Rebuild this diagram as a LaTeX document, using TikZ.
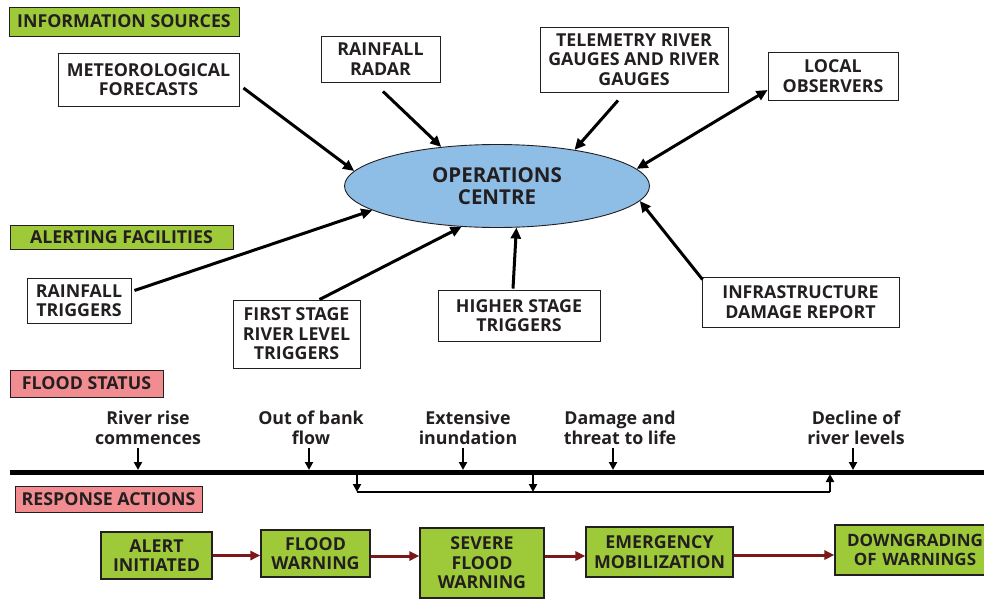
\documentclass[tikz,border=0pt]{standalone}
\usepackage{fontspec}
\setmainfont{Open Sans}
\usetikzlibrary{shapes.geometric,arrows.meta,calc}
\definecolor{boxgreen}{RGB}{158,202,58}
\definecolor{boxpink}{RGB}{241,140,144}
\definecolor{ocblue}{RGB}{142,189,230}
\definecolor{txt}{RGB}{35,31,32}
\definecolor{darkred}{RGB}{125,24,24}
\begin{document}
\begin{tikzpicture}[x=1pt,y=-1pt,
  every node/.style={text=txt,font=\bfseries\fontsize{17.8}{19.5}\selectfont,align=center,inner sep=0pt},
  srcbox/.style={draw=txt,line width=0.9pt,fill=white},
  headg/.style={draw=txt,line width=0.9pt,fill=boxgreen},
  headp/.style={draw=txt,line width=0.9pt,fill=boxpink},
  actbox/.style={draw=txt,line width=1.1pt,fill=boxgreen},
  lbl/.style={font=\bfseries\fontsize{17.8}{19.5}\selectfont},
  arr/.style={line width=3pt,-{Triangle[length=11pt,width=10pt]}},
  tarr/.style={line width=2.2pt,-{Triangle[length=8pt,width=8pt]}},
  rarr/.style={draw=darkred,line width=3pt,-{Triangle[length=10pt,width=9pt]}}]
\useasboundingbox (0,0) rectangle (984,599);

% headings
\node[headg,minimum width=230,minimum height=29] (info) at (124,21.5) {INFORMATION SOURCES};
\node[headg,minimum width=223,minimum height=24] (alerting) at (121.5,237) {ALERTING FACILITIES};
\node[headp,minimum width=153,minimum height=27] (fstatus) at (86.5,383.5) {FLOOD STATUS};
\node[headp,minimum width=187,minimum height=26] (response) at (108.5,499) {RESPONSE ACTIONS};

% sources
\node[srcbox,minimum width=181,minimum height=53] (meteo) at (148.5,79.5) {METEOROLOGICAL\\FORECASTS};
\node[srcbox,minimum width=119,minimum height=46] (radar) at (380.5,59) {RAINFALL\\RADAR};
\node[srcbox,minimum width=188,minimum height=65] (telem) at (634,59.5) {TELEMETRY RIVER\\GAUGES AND RIVER\\GAUGES};
\node[srcbox,minimum width=130,minimum height=48] (local) at (833,76) {LOCAL\\OBSERVERS};

% operations centre
\node[ellipse,draw=txt,line width=0.9pt,fill=ocblue,minimum width=305,minimum height=83,
      font=\bfseries\fontsize{20.5}{22}\selectfont] (oc) at (497,186) {OPERATIONS\\CENTRE};

% alerting facilities
\node[srcbox,minimum width=104,minimum height=45] (rtrig) at (79,300.5) {RAINFALL\\TRIGGERS};
\node[srcbox,minimum width=127,minimum height=68] (first) at (296.5,334) {FIRST STAGE\\RIVER LEVEL\\TRIGGERS};
\node[srcbox,minimum width=162,minimum height=51] (higher) at (519,315.5) {HIGHER STAGE\\TRIGGERS};
\node[srcbox,minimum width=197,minimum height=50] (infra) at (800.5,302) {INFRASTRUCTURE\\DAMAGE REPORT};

% connectors to the centre
\draw[arr] ($(meteo.east)+(4,8.5)$) -- (oc.174.6);
\draw[arr] ($(radar.south)+(2.5,9)$) -- (oc.145);
\draw[arr] ($(telem.south)+(-16,8)$) -- (oc.25.2);
\draw[line width=3pt,{Triangle[length=11pt,width=10pt]}-{Triangle[length=11pt,width=10pt]}] (oc.7.6) -- ($(local.west)+(0,14)$);
\draw[arr] ($(rtrig.east)+(3,-10)$) -- (oc.191.3);
\draw[arr] ($(first.north)+(23,0)$) -- (oc.229);
\draw[arr] ($(higher.north)+(-6,-1)$) -- (oc.295);
\draw[arr] ($(infra.north west)+(1,3)$) -- (oc.354.3);

% timeline
\coordinate (tl) at (10,472);
\coordinate (tr) at (984,472);
\draw[line width=5pt] (tl) -- (tr);

\node[lbl] (l1) at (148,428) {River rise\\commences};
\node[lbl] (l2) at (311,428) {Out of bank\\flow};
\node[lbl] (l3) at (468,428) {Extensive\\inundation};
\node[lbl] (l4) at (620,428) {Damage and\\threat to life};
\node[lbl] (l5) at (856,428) {Decline of\\river levels};

\coordinate (a1) at (138,470);
\coordinate (a2) at (309,470);
\coordinate (a3) at (463,470);
\coordinate (a4) at (613,470);
\coordinate (a5) at (853,470);
\foreach \a in {a1,a2,a3,a4,a5}
  \draw[tarr] ($(\a)+(0,-22)$) -- (\a);

% bracket
\coordinate (b1) at (357,474);
\coordinate (b2) at (357,492);
\coordinate (b3) at (830,492);
\coordinate (b4) at (830,474);
\coordinate (b5) at (533,474);
\coordinate (b6) at (533,492);
\draw[line width=2pt] (b2) -- (b3);
\draw[tarr] (b1) -- (b2);
\draw[tarr] (b5) -- (b6);
\draw[tarr] (b3) -- (b4);

% response actions
\node[actbox,minimum width=111,minimum height=47] (alert) at (156.5,555.5) {ALERT\\INITIATED};
\node[actbox,minimum width=109,minimum height=47] (fwarn) at (315.5,553.5) {FLOOD\\WARNING};
\node[actbox,minimum width=124,minimum height=70] (severe) at (482,563) {SEVERE\\FLOOD\\WARNING};
\node[actbox,minimum width=147,minimum height=50] (emerg) at (659.5,552) {EMERGENCY\\MOBILIZATION};
\node[actbox,minimum width=160,minimum height=50,text width=148,
      font=\bfseries\fontsize{17}{19.5}\selectfont] (down) at (915,550) {DOWNGRADING\\OF WARNINGS};

\coordinate (r1) at ($(fwarn.east)+(0,2.5)$);
\coordinate (r2) at ($(severe.east)+(0,-7)$);
\coordinate (r3) at ($(emerg.east)+(0,3)$);
\draw[rarr] (alert.east) -- (alert.east -| fwarn.west);
\draw[rarr] (r1) -- (r1 -| severe.west);
\draw[rarr] (r2) -- (r2 -| emerg.west);
\draw[rarr] (r3) -- (r3 -| down.west);
\end{tikzpicture}
\end{document}
